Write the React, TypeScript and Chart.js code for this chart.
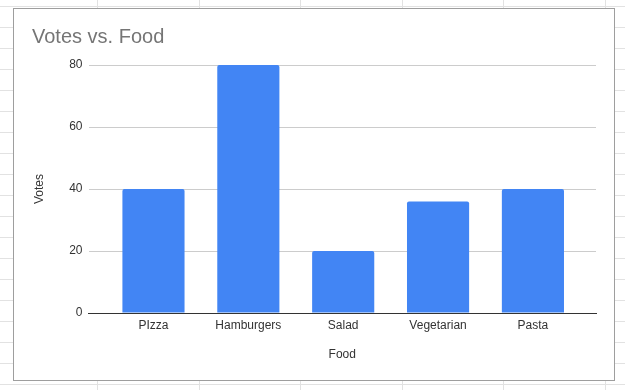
import React, { useEffect, useRef } from "react";
import { Chart, registerables } from "chart.js";

Chart.register(...registerables);

const categories = ["PIzza", "Hamburgers", "Salad", "Vegetarian", "Pasta"];
const votes = [40, 80, 20, 36, 40];
const yTicks = [0, 20, 40, 60, 80];
const chartTitle = "Votes vs. Food";
const xTitle = "Food";
const yTitle = "Votes";

const FONT = "'Liberation Sans', Arial, sans-serif";

export default function App() {
  const ref = useRef<HTMLCanvasElement | null>(null);

  useEffect(() => {
    if (!ref.current) return;
    const chart = new Chart(ref.current, {
      type: "bar",
      data: {
        datasets: [
          {
            label: yTitle,
            data: votes.map((v, i) => ({ x: i, y: v })),
            backgroundColor: "#4285f4",
            borderWidth: 0,
            borderRadius: 2,
            borderSkipped: "start",
            categoryPercentage: 1,
            barPercentage: 0.655,
          },
        ],
      },
      options: {
        animation: false,
        responsive: false,
        devicePixelRatio: 1,
        layout: { padding: { left: 18, right: 18, top: 0, bottom: 0 } },
        plugins: {
          legend: { display: false },
          tooltip: { enabled: false },
          title: {
            display: true,
            text: chartTitle,
            align: "start",
            color: "#757575",
            font: { family: FONT, size: 20, weight: "normal" },
            padding: { top: 16, bottom: 16 },
          },
        },
        scales: {
          x: {
            type: "linear",
            offset: false,
            min: -0.685,
            max: 4.665,
            grid: { display: false, drawTicks: false, offset: false },
            border: { display: true, color: "#333333", width: 1 },
            afterBuildTicks: (scale: any) => {
              scale.ticks = categories.map((_, i) => ({ value: i }));
            },
            afterFit: (scale: any) => {
              scale.height = 67;
            },
            ticks: {
              autoSkip: false,
              maxRotation: 0,
              padding: 5,
              color: "#333333",
              font: { family: FONT, size: 12 },
              callback: (v: any) => categories[v as number] ?? "",
            },
            title: {
              display: true,
              text: xTitle,
              color: "#333333",
              font: { family: FONT, size: 12 },
              padding: { top: 0, bottom: 18 },
            },
          },
          y: {
            min: 0,
            max: 80,
            afterBuildTicks: (scale: any) => {
              scale.ticks = yTicks.map((v) => ({ value: v }));
            },
            afterFit: (scale: any) => {
              scale.width = 56.5;
            },
            grid: { color: "#cccccc", drawTicks: false },
            border: { display: false },
            ticks: {
              padding: 6,
              color: "#333333",
              font: { family: FONT, size: 12 },
            },
            title: {
              display: true,
              text: yTitle,
              color: "#333333",
              font: { family: FONT, size: 12 },
              padding: { top: 0, bottom: 0 },
            },
          },
        },
      },
    });
    return () => chart.destroy();
  }, []);

  const cols = [-4, 97, 199, 300, 402, 503, 605];
  const rows: number[] = [];
  for (let y = 6; y < 390; y += 21) rows.push(y);

  return (
    <div
      style={{
        position: "fixed",
        left: 0,
        top: 0,
        width: 625,
        height: 390,
        background: "#ffffff",
        overflow: "hidden",
      }}
    >
      {cols.map((x) => (
        <div
          key={"c" + x}
          style={{ position: "absolute", left: x, top: 0, width: 1, height: 390, background: "#e2e2e2" }}
        />
      ))}
      {rows.map((y) => (
        <div
          key={"r" + y}
          style={{ position: "absolute", left: 0, top: y, width: 625, height: 1, background: "#e2e2e2" }}
        />
      ))}
      <div
        style={{
          position: "absolute",
          left: 13,
          top: 8,
          width: 600,
          height: 371,
          border: "1px solid #9e9e9e",
          background: "#ffffff",
        }}
      >
        <canvas ref={ref} width={600} height={371} style={{ display: "block" }} />
      </div>
    </div>
  );
}
